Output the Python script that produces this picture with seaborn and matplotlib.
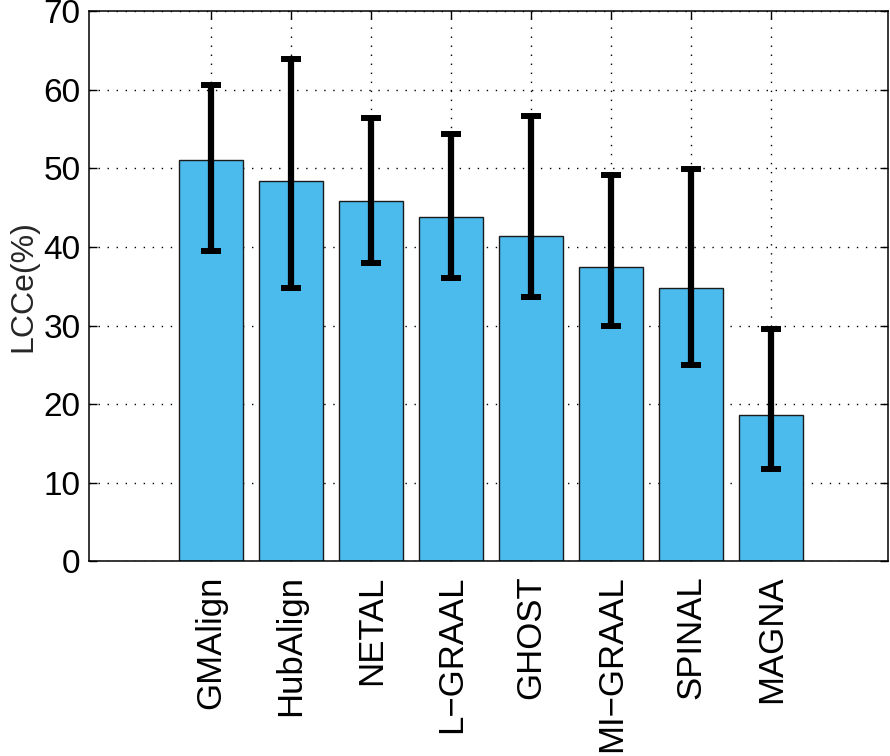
import numpy as np
import pandas as pd
import matplotlib
matplotlib.use('Agg')
import matplotlib.pyplot as plt
import seaborn as sns

# values
methods = ['GMAlign', 'HubAlign', 'NETAL', 'L\u2212GRAAL', 'GHOST', 'MI\u2212GRAAL', 'SPINAL', 'MAGNA']
lcce_mean = [51.0, 48.4, 45.9, 43.8, 41.4, 37.4, 34.8, 18.6]
lcce_low = [39.5, 34.8, 37.9, 36.0, 33.6, 30.0, 25.0, 11.7]
lcce_high = [60.6, 63.9, 56.4, 54.4, 56.6, 49.1, 49.9, 29.6]
y_ticks = [0, 10, 20, 30, 40, 50, 60, 70]

sns.set_style('ticks')
plt.rcParams['font.family'] = ['Liberation Sans', 'DejaVu Sans']

df = pd.DataFrame({'method': methods, 'lcce': lcce_mean})

fig = plt.figure(figsize=(8.9, 7.56), dpi=100)
ax = fig.add_axes([0.1, 0.2573, 0.898, 0.728])

sns.barplot(data=df, x='method', y='lcce', color='#4BBAEC', saturation=1,
            width=0.8, edgecolor='#1a1a1a', linewidth=1.0, ax=ax, zorder=2)

mean = np.array(lcce_mean)
yerr = np.vstack([mean - np.array(lcce_low), np.array(lcce_high) - mean])
ax.errorbar(np.arange(len(methods)), mean, yerr=yerr, fmt='none', ecolor='black',
            elinewidth=4.5, capsize=7, capthick=4.3, zorder=3)

ax.set_xlim(-1.525, 8.46)
ax.set_ylim(0, 70)
ax.set_yticks(y_ticks)
ax.set_xlabel('')
ax.set_ylabel('LCCe(%)', fontsize=23, labelpad=4)
ax.set_xticks(range(len(methods)))
ax.set_xticklabels(methods, rotation=90, fontsize=25)
ax.tick_params(axis='y', labelsize=24, pad=6)
ax.tick_params(axis='x', pad=10)
ax.tick_params(direction='in', length=6, width=1, top=True, right=True, colors='black')

ax.grid(True, color='black', linestyle=(0, (1, 5.5)), linewidth=1.0, zorder=0)
ax.set_axisbelow(True)
for s in ax.spines.values():
    s.set_linewidth(1.1)
    s.set_color('black')
    s.set_zorder(4)

fig.savefig('out.png', dpi=100)
